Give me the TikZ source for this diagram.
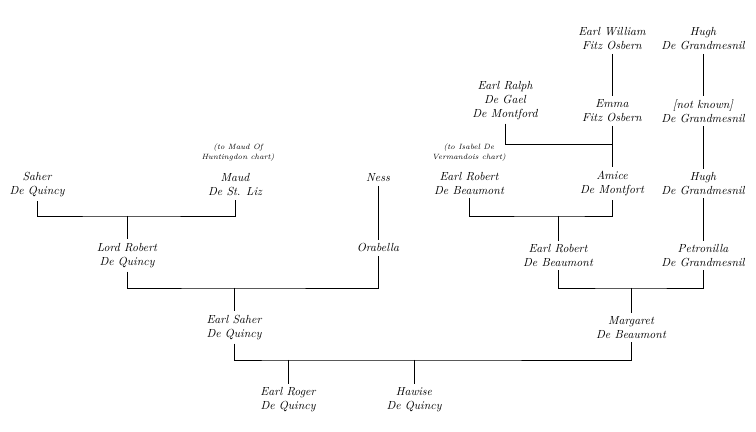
\documentclass[tikz,border=0pt]{standalone}
\usepackage{tikz}
\usetikzlibrary{calc}

\begin{document}
\begin{tikzpicture}[
    x=0.03cm, y=-0.03cm,
    person/.style={align=center, inner sep=3pt, font=\itshape\fontsize{10}{12}\selectfont},
    note/.style={align=center, inner sep=1pt, font=\itshape\fontsize{6.5}{8.5}\selectfont},
    line/.style={line width=0.7pt},
  ]
  \useasboundingbox (0,0) rectangle (756,432);
  % top generations
  \node[person] (william) at (612,39) {Earl William\\Fitz Osbern};
  \node[person] (hugha) at (703,39) {Hugh\\De Grandmesnil};
  \node[person] (ralph) at (505,100.5) {Earl Ralph\\De Gael\\De Montford};
  \node[person] (emma) at (612,111) {Emma\\Fitz Osbern};
  \node[person] (notknown) at (703,111) {[not known]\\De Grandmesnil};
  % third row
  \node[person] (saher) at (37,185) {Saher\\De Quincy};
  \node[person] (maud) at (235,185) {Maud\\De St. Liz};
  \node[note] (maudnote) at (238,153) {(to Maud Of\\Huntingdon chart)};
  \node[person] (ness) at (378,178) {Ness};
  \node[note] (isabelnote) at (469,152.5) {(to Isabel De\\Vermandois chart)};
  \node[person] (roberta) at (469,183.5) {Earl Robert\\De Beaumont};
  \node[person] (amice) at (612,183.5) {Amice\\De Montfort};
  \node[person] (hughb) at (703,183.5) {Hugh\\De Grandmesnil};
  % fourth row
  \node[person] (lordrobert) at (127,255.5) {Lord Robert\\De Quincy};
  \node[person] (orabella) at (378,248) {Orabella};
  \node[person] (robertb) at (558,255.5) {Earl Robert\\De Beaumont};
  \node[person] (petronilla) at (703,255.5) {Petronilla\\De Grandmesnil};
  % fifth row
  \node[person] (earlsaher) at (234,327.5) {Earl Saher\\De Quincy};
  \node[person] (margaret) at (631,327.5) {Margaret\\De Beaumont};
  % children
  \node[person] (roger) at (288,400) {Earl Roger\\De Quincy};
  \node[person] (hawise) at (414,400) {Hawise\\De Quincy};

  % junctions of the marriage bars
  \coordinate (jralph) at (612,144);
  \coordinate (jquincya) at (127,216);
  \coordinate (jbeaumonta) at (558,216);
  \coordinate (jquincyb) at (234,288);
  \coordinate (jbeaumontb) at (631,288);
  \coordinate (jroger) at (288,360);
  \coordinate (jhawise) at (414,360);

  \draw[line] (william) -- (emma);
  \draw[line] (hugha) -- (notknown);
  \draw[line] (notknown) -- (hughb);
  \draw[line] (hughb) -- (petronilla);
  \draw[line] (ness) -- (orabella);
  \draw[line] (emma) -- (amice);
  \draw[line] (ralph) |- (jralph);
  \draw[line] (saher) |- (jquincya) -| (maud);
  \draw[line] (jquincya) -- (lordrobert);
  \draw[line] (roberta) |- (jbeaumonta) -| (amice);
  \draw[line] (jbeaumonta) -- (robertb);
  \draw[line] (lordrobert) |- (jquincyb) -| (orabella);
  \draw[line] (jquincyb) -- (earlsaher);
  \draw[line] (robertb) |- (jbeaumontb) -| (petronilla);
  \draw[line] (jbeaumontb) -- (margaret);
  \draw[line] (earlsaher) |- (jroger) -- (jhawise) -| (margaret);
  \draw[line] (jroger) -- (roger);
  \draw[line] (jhawise) -- (hawise);
\end{tikzpicture}
\end{document}
